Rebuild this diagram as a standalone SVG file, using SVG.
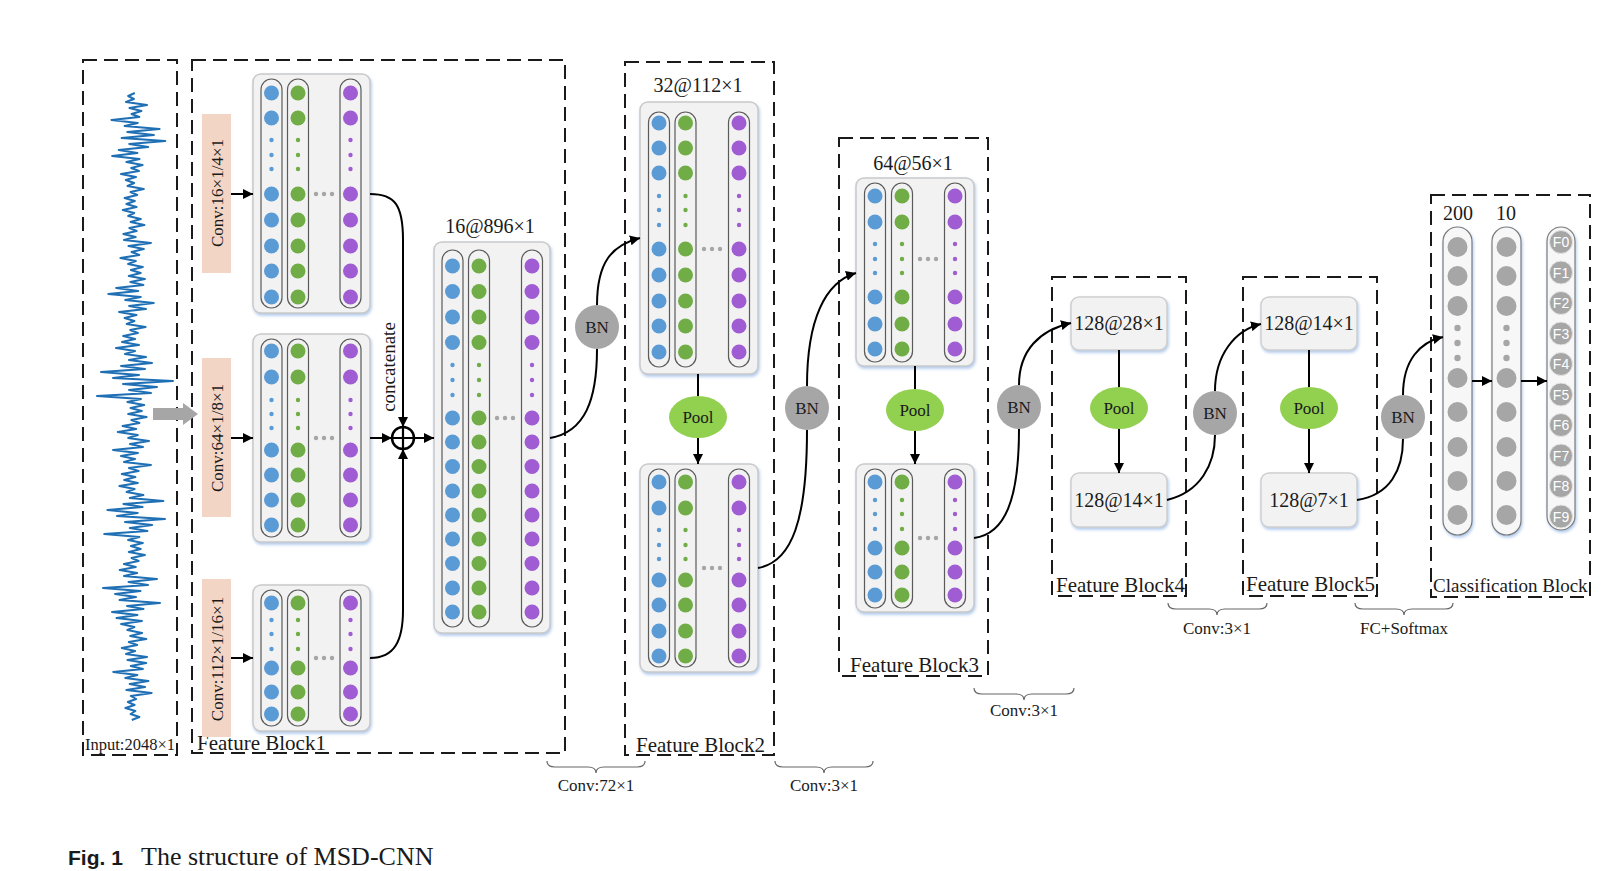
<svg xmlns="http://www.w3.org/2000/svg" width="1619" height="871" viewBox="0 0 1619 871">
<defs>
<style>
.dash{fill:none;stroke:#1a1a1a;stroke-width:2;stroke-dasharray:14 7}
.fm{fill:#f2f2f2;stroke:#c9c9c9;stroke-width:1.5;filter:url(#sh)}
.cap{fill:none;stroke:#5a5a5a;stroke-width:1.2}
.gcap{fill:#f7f7f7;stroke:#7a7a7a;stroke-width:1.2;filter:url(#sh)}
.b{fill:#5b9bd5}.g{fill:#70ad47}.p{fill:#a05cd2}.e{fill:#a6a6a6}
.conn{fill:none;stroke:#000;stroke-width:2}
.arr{marker-end:url(#ah)}
.bn{fill:#a6a6a6}
.pool{fill:#92d050}
.tb{fill:#f2f2f2;stroke:#cfcfcf;stroke-width:1.5;filter:url(#sh)}
.t{font-family:"Liberation Serif","Times New Roman",serif;fill:#1a1a1a}
.pink{fill:#f3d5c5}
.brace{fill:none;stroke:#666;stroke-width:1.2}
.fl{font-family:"Liberation Sans",Arial,sans-serif;font-size:14px;fill:#fff}
</style>
<filter id="sh" x="-10%" y="-10%" width="130%" height="130%">
<feDropShadow dx="1" dy="2" stdDeviation="1.5" flood-color="#8fb4e3" flood-opacity="0.7"/>
</filter>
<marker id="ah" viewBox="0 0 10 10" refX="10" refY="5" markerWidth="5" markerHeight="5" orient="auto" markerUnits="strokeWidth">
<path d="M0,0 L10,5 L0,10 z" fill="#000"/>
</marker>
</defs>
<rect width="1619" height="871" fill="#fff"/>

<g id="input">
<rect class="dash" x="83" y="60" width="94" height="695"/>
<path fill="none" stroke="#1f6fb5" stroke-width="2" stroke-linejoin="round" d="M134.8,93 L128.2,96 L133.9,99 L126,102 L147,105 L129.5,108 L141.4,111 L131.6,114 L139.3,117 L111.4,120 L137.8,123 L124.6,126 L159.6,129 L127.3,132 L153.9,135 L121.6,138 L165.3,141 L129.2,144 L148.2,147 L118.7,150 L137.4,153 L112.1,156 L139.6,159 L126.4,162 L142.6,165 L131.2,168 L139,171 L121,174 L136,177 L125.8,180 L134.2,183 L127.6,186 L143.8,189 L130.6,192 L137.2,195 L124.6,198 L134.8,201 L126.4,204 L136.6,207 L122.8,210 L134.2,213 L128.2,216 L140.8,219 L130.6,222 L144.4,225 L129.4,228 L136.6,231 L123.4,234 L135.7,237 L124,240 L151,243 L128.5,246 L143.8,249 L131.6,252 L139.3,255 L120.4,258 L135.8,261 L128.1,264 L142.8,267 L130.9,270 L140.7,273 L128.8,276 L144.9,279 L130.4,282 L143.4,285 L116.1,288 L138.2,291 L108.3,294 L140.8,297 L125.2,300 L153.8,303 L129.1,306 L146,309 L119,312 L136.5,315 L124.6,318 L134.4,321 L126.7,324 L145.6,327 L130.2,330 L137.9,333 L123.2,336 L135.1,339 L122,342 L139,345 L116,348 L135,351 L125,354 L146,357 L129,360 L152,363 L121,366 L145,369 L101,372 L139,375 L113,378 L173,381 L123,384 L157,387 L129,390 L151,393 L97,396 L141,399 L127.4,402 L144.2,405 L130.6,408 L141.8,411 L128.2,414 L146.6,417 L131.4,420 L139.4,423 L122.6,426 L136.2,429 L117.8,432 L137.8,435 L128.2,438 L149,441 L130,444 L143,447 L113,450 L138,453 L121,456 L135,459 L124,462 L151,465 L129,468 L138.6,471 L121.8,474 L135.4,477 L124.2,480 L137.8,483 L119.4,486 L134.6,489 L126.6,492 L143.4,495 L129.8,498 L163.4,501 L123.4,504 L142.6,507 L107.4,510 L137.8,513 L117,516 L165,519 L125,522 L152.2,525 L129.8,528 L147.4,531 L104.2,534 L139.4,537 L128.1,540 L142.8,543 L130.9,546 L140.7,549 L128.8,552 L144.9,555 L131.6,558 L138.6,561 L123.9,564 L135.8,567 L119.7,570 L137.2,573 L124,576 L157,579 L128.5,582 L148,585 L103,588 L140.5,591 L115,594 L136,597 L119.5,600 L160,603 L127,606 L143.5,609 L112,612 L137.5,615 L116.5,618 L142,621 L121.1,624 L134.4,627 L127.4,630 L142.1,633 L130.2,636 L146.3,639 L128.8,642 L137.2,645 L121.8,648 L135.1,651 L126,654 L147,657 L127.5,660 L146.2,663 L130.8,666 L142.9,669 L113.2,672 L137.4,675 L125.3,678 L148.4,681 L129.7,684 L145.1,687 L126.4,690 L151.7,693 L130.8,696 L136.2,699 L127.8,702 L134.6,705 L125.4,708 L135.4,711 L130.6,714 L139.4,717 L131.8,720"/>
<text class="t" x="85" y="750" font-size="16.5">Input:2048×1</text>
</g>

<g id="feature-block1">
<rect class="dash" x="192" y="60" width="373" height="693"/>
<text class="t" x="197" y="750" font-size="21">Feature Block1</text>
<rect class="pink" x="202" y="114" width="29" height="159"/>
<rect class="pink" x="202" y="358" width="29" height="159"/>
<rect class="pink" x="202" y="579" width="29" height="158"/>
<text class="t" font-size="17" text-anchor="middle" dominant-baseline="central" transform="translate(217,193) rotate(-90)">Conv:16×1/4×1</text>
<text class="t" font-size="17" text-anchor="middle" dominant-baseline="central" transform="translate(217,438) rotate(-90)">Conv:64×1/8×1</text>
<text class="t" font-size="17" text-anchor="middle" dominant-baseline="central" transform="translate(217,659) rotate(-90)">Conv:112×1/16×1</text>
<text class="t" font-size="19" text-anchor="middle" dominant-baseline="central" transform="translate(388,367) rotate(-90)">concatenate</text>

<g id="fmap1">
<rect class="fm" x="253" y="74" width="117" height="239" rx="8"/>
<rect class="cap" x="261" y="79" width="21" height="229" rx="10.5"/>
<rect class="cap" x="287.5" y="79" width="21" height="229" rx="10.5"/>
<rect class="cap" x="340" y="79" width="21" height="229" rx="10.5"/>
<g class="b"><circle cx="271.5" cy="93" r="7.5"/><circle cx="271.5" cy="118" r="7.5"/><circle cx="271.5" cy="140" r="2.2"/><circle cx="271.5" cy="155" r="2.2"/><circle cx="271.5" cy="169" r="2.2"/><circle cx="271.5" cy="194" r="7.5"/><circle cx="271.5" cy="220" r="7.5"/><circle cx="271.5" cy="246" r="7.5"/><circle cx="271.5" cy="271" r="7.5"/><circle cx="271.5" cy="297" r="7.5"/></g>
<g class="g"><circle cx="298" cy="93" r="7.5"/><circle cx="298" cy="118" r="7.5"/><circle cx="298" cy="140" r="2.2"/><circle cx="298" cy="155" r="2.2"/><circle cx="298" cy="169" r="2.2"/><circle cx="298" cy="194" r="7.5"/><circle cx="298" cy="220" r="7.5"/><circle cx="298" cy="246" r="7.5"/><circle cx="298" cy="271" r="7.5"/><circle cx="298" cy="297" r="7.5"/></g>
<g class="p"><circle cx="350.5" cy="93" r="7.5"/><circle cx="350.5" cy="118" r="7.5"/><circle cx="350.5" cy="140" r="2.2"/><circle cx="350.5" cy="155" r="2.2"/><circle cx="350.5" cy="169" r="2.2"/><circle cx="350.5" cy="194" r="7.5"/><circle cx="350.5" cy="220" r="7.5"/><circle cx="350.5" cy="246" r="7.5"/><circle cx="350.5" cy="271" r="7.5"/><circle cx="350.5" cy="297" r="7.5"/></g>
<g class="e"><circle cx="316" cy="194" r="2.2"/><circle cx="324" cy="194" r="2.2"/><circle cx="332" cy="194" r="2.2"/></g>
</g>

<g id="fmap2">
<rect class="fm" x="253" y="334" width="117" height="208" rx="8"/>
<rect class="cap" x="261" y="339" width="21" height="198" rx="10.5"/>
<rect class="cap" x="287.5" y="339" width="21" height="198" rx="10.5"/>
<rect class="cap" x="340" y="339" width="21" height="198" rx="10.5"/>
<g class="b"><circle cx="271.5" cy="351" r="7.5"/><circle cx="271.5" cy="377" r="7.5"/><circle cx="271.5" cy="400" r="2.2"/><circle cx="271.5" cy="414" r="2.2"/><circle cx="271.5" cy="428" r="2.2"/><circle cx="271.5" cy="450" r="7.5"/><circle cx="271.5" cy="475" r="7.5"/><circle cx="271.5" cy="500" r="7.5"/><circle cx="271.5" cy="525" r="7.5"/></g>
<g class="g"><circle cx="298" cy="351" r="7.5"/><circle cx="298" cy="377" r="7.5"/><circle cx="298" cy="400" r="2.2"/><circle cx="298" cy="414" r="2.2"/><circle cx="298" cy="428" r="2.2"/><circle cx="298" cy="450" r="7.5"/><circle cx="298" cy="475" r="7.5"/><circle cx="298" cy="500" r="7.5"/><circle cx="298" cy="525" r="7.5"/></g>
<g class="p"><circle cx="350.5" cy="351" r="7.5"/><circle cx="350.5" cy="377" r="7.5"/><circle cx="350.5" cy="400" r="2.2"/><circle cx="350.5" cy="414" r="2.2"/><circle cx="350.5" cy="428" r="2.2"/><circle cx="350.5" cy="450" r="7.5"/><circle cx="350.5" cy="475" r="7.5"/><circle cx="350.5" cy="500" r="7.5"/><circle cx="350.5" cy="525" r="7.5"/></g>
<g class="e"><circle cx="316" cy="438" r="2.2"/><circle cx="324" cy="438" r="2.2"/><circle cx="332" cy="438" r="2.2"/></g>
</g>

<g id="fmap3">
<rect class="fm" x="253" y="585" width="117" height="146" rx="8"/>
<rect class="cap" x="261" y="590" width="21" height="136" rx="10.5"/>
<rect class="cap" x="287.5" y="590" width="21" height="136" rx="10.5"/>
<rect class="cap" x="340" y="590" width="21" height="136" rx="10.5"/>
<g class="b"><circle cx="271.5" cy="603" r="7.5"/><circle cx="271.5" cy="620" r="2.2"/><circle cx="271.5" cy="634" r="2.2"/><circle cx="271.5" cy="649" r="2.2"/><circle cx="271.5" cy="668" r="7.5"/><circle cx="271.5" cy="692" r="7.5"/><circle cx="271.5" cy="714" r="7.5"/></g>
<g class="g"><circle cx="298" cy="603" r="7.5"/><circle cx="298" cy="620" r="2.2"/><circle cx="298" cy="634" r="2.2"/><circle cx="298" cy="649" r="2.2"/><circle cx="298" cy="668" r="7.5"/><circle cx="298" cy="692" r="7.5"/><circle cx="298" cy="714" r="7.5"/></g>
<g class="p"><circle cx="350.5" cy="603" r="7.5"/><circle cx="350.5" cy="620" r="2.2"/><circle cx="350.5" cy="634" r="2.2"/><circle cx="350.5" cy="649" r="2.2"/><circle cx="350.5" cy="668" r="7.5"/><circle cx="350.5" cy="692" r="7.5"/><circle cx="350.5" cy="714" r="7.5"/></g>
<g class="e"><circle cx="316" cy="658" r="2.2"/><circle cx="324" cy="658" r="2.2"/><circle cx="332" cy="658" r="2.2"/></g>
</g>

<g id="concat">
<circle cx="403" cy="438" r="11" fill="#fff" stroke="#000" stroke-width="2.5"/>
<path d="M392,438 H414 M403,427 V449" stroke="#000" stroke-width="2.2"/>
</g>

<g id="fmap-big">
<text class="t" x="490" y="233" font-size="20" text-anchor="middle">16@896×1</text>
<rect class="fm" x="434" y="242" width="116" height="391" rx="8"/>
<rect class="cap" x="442" y="250" width="21" height="377" rx="10.5"/>
<rect class="cap" x="468.5" y="250" width="21" height="377" rx="10.5"/>
<rect class="cap" x="521.5" y="250" width="21" height="377" rx="10.5"/>
<g class="b"><circle cx="452.5" cy="266" r="7.5"/><circle cx="452.5" cy="291.5" r="7.5"/><circle cx="452.5" cy="317" r="7.5"/><circle cx="452.5" cy="342.5" r="7.5"/><circle cx="452.5" cy="365" r="2.2"/><circle cx="452.5" cy="380" r="2.2"/><circle cx="452.5" cy="395" r="2.2"/><circle cx="452.5" cy="418" r="7.5"/><circle cx="452.5" cy="442" r="7.5"/><circle cx="452.5" cy="466.5" r="7.5"/><circle cx="452.5" cy="491" r="7.5"/><circle cx="452.5" cy="515" r="7.5"/><circle cx="452.5" cy="539" r="7.5"/><circle cx="452.5" cy="563.5" r="7.5"/><circle cx="452.5" cy="588" r="7.5"/><circle cx="452.5" cy="612" r="7.5"/></g>
<g class="g"><circle cx="479" cy="266" r="7.5"/><circle cx="479" cy="291.5" r="7.5"/><circle cx="479" cy="317" r="7.5"/><circle cx="479" cy="342.5" r="7.5"/><circle cx="479" cy="365" r="2.2"/><circle cx="479" cy="380" r="2.2"/><circle cx="479" cy="395" r="2.2"/><circle cx="479" cy="418" r="7.5"/><circle cx="479" cy="442" r="7.5"/><circle cx="479" cy="466.5" r="7.5"/><circle cx="479" cy="491" r="7.5"/><circle cx="479" cy="515" r="7.5"/><circle cx="479" cy="539" r="7.5"/><circle cx="479" cy="563.5" r="7.5"/><circle cx="479" cy="588" r="7.5"/><circle cx="479" cy="612" r="7.5"/></g>
<g class="p"><circle cx="532" cy="266" r="7.5"/><circle cx="532" cy="291.5" r="7.5"/><circle cx="532" cy="317" r="7.5"/><circle cx="532" cy="342.5" r="7.5"/><circle cx="532" cy="365" r="2.2"/><circle cx="532" cy="380" r="2.2"/><circle cx="532" cy="395" r="2.2"/><circle cx="532" cy="418" r="7.5"/><circle cx="532" cy="442" r="7.5"/><circle cx="532" cy="466.5" r="7.5"/><circle cx="532" cy="491" r="7.5"/><circle cx="532" cy="515" r="7.5"/><circle cx="532" cy="539" r="7.5"/><circle cx="532" cy="563.5" r="7.5"/><circle cx="532" cy="588" r="7.5"/><circle cx="532" cy="612" r="7.5"/></g>
<g class="e"><circle cx="497" cy="418" r="2.2"/><circle cx="505" cy="418" r="2.2"/><circle cx="513" cy="418" r="2.2"/></g>
</g>
</g>

<g id="feature-block2">
<rect class="dash" x="625" y="62" width="149" height="693"/>
<text class="t" x="636" y="752" font-size="21">Feature Block2</text>
<text class="t" x="698" y="92" font-size="20" text-anchor="middle">32@112×1</text>
<g id="fmapA">
<rect class="fm" x="640" y="102" width="118" height="272" rx="8"/>
<rect class="cap" x="648.5" y="112" width="21" height="255" rx="10.5"/>
<rect class="cap" x="675" y="112" width="21" height="255" rx="10.5"/>
<rect class="cap" x="728.5" y="112" width="21" height="255" rx="10.5"/>
<g class="b"><circle cx="659" cy="123" r="7.5"/><circle cx="659" cy="148" r="7.5"/><circle cx="659" cy="173" r="7.5"/><circle cx="659" cy="196" r="2.2"/><circle cx="659" cy="210" r="2.2"/><circle cx="659" cy="225" r="2.2"/><circle cx="659" cy="249" r="7.5"/><circle cx="659" cy="275" r="7.5"/><circle cx="659" cy="301" r="7.5"/><circle cx="659" cy="326" r="7.5"/><circle cx="659" cy="352" r="7.5"/></g>
<g class="g"><circle cx="685.5" cy="123" r="7.5"/><circle cx="685.5" cy="148" r="7.5"/><circle cx="685.5" cy="173" r="7.5"/><circle cx="685.5" cy="196" r="2.2"/><circle cx="685.5" cy="210" r="2.2"/><circle cx="685.5" cy="225" r="2.2"/><circle cx="685.5" cy="249" r="7.5"/><circle cx="685.5" cy="275" r="7.5"/><circle cx="685.5" cy="301" r="7.5"/><circle cx="685.5" cy="326" r="7.5"/><circle cx="685.5" cy="352" r="7.5"/></g>
<g class="p"><circle cx="739" cy="123" r="7.5"/><circle cx="739" cy="148" r="7.5"/><circle cx="739" cy="173" r="7.5"/><circle cx="739" cy="196" r="2.2"/><circle cx="739" cy="210" r="2.2"/><circle cx="739" cy="225" r="2.2"/><circle cx="739" cy="249" r="7.5"/><circle cx="739" cy="275" r="7.5"/><circle cx="739" cy="301" r="7.5"/><circle cx="739" cy="326" r="7.5"/><circle cx="739" cy="352" r="7.5"/></g>
<g class="e"><circle cx="704" cy="249" r="2.2"/><circle cx="712" cy="249" r="2.2"/><circle cx="720" cy="249" r="2.2"/></g>
</g>
<g id="pool2">
<ellipse class="pool" cx="698" cy="417" rx="29" ry="21"/>
<text class="t" x="698" y="423" font-size="17" text-anchor="middle">Pool</text>
</g>
<g id="fmapB">
<rect class="fm" x="640" y="464" width="118" height="208" rx="8"/>
<rect class="cap" x="648.5" y="469" width="21" height="198" rx="10.5"/>
<rect class="cap" x="675" y="469" width="21" height="198" rx="10.5"/>
<rect class="cap" x="728.5" y="469" width="21" height="198" rx="10.5"/>
<g class="b"><circle cx="659" cy="482" r="7.5"/><circle cx="659" cy="508" r="7.5"/><circle cx="659" cy="530" r="2.2"/><circle cx="659" cy="545" r="2.2"/><circle cx="659" cy="559" r="2.2"/><circle cx="659" cy="580" r="7.5"/><circle cx="659" cy="605" r="7.5"/><circle cx="659" cy="631" r="7.5"/><circle cx="659" cy="656" r="7.5"/></g>
<g class="g"><circle cx="685.5" cy="482" r="7.5"/><circle cx="685.5" cy="508" r="7.5"/><circle cx="685.5" cy="530" r="2.2"/><circle cx="685.5" cy="545" r="2.2"/><circle cx="685.5" cy="559" r="2.2"/><circle cx="685.5" cy="580" r="7.5"/><circle cx="685.5" cy="605" r="7.5"/><circle cx="685.5" cy="631" r="7.5"/><circle cx="685.5" cy="656" r="7.5"/></g>
<g class="p"><circle cx="739" cy="482" r="7.5"/><circle cx="739" cy="508" r="7.5"/><circle cx="739" cy="530" r="2.2"/><circle cx="739" cy="545" r="2.2"/><circle cx="739" cy="559" r="2.2"/><circle cx="739" cy="580" r="7.5"/><circle cx="739" cy="605" r="7.5"/><circle cx="739" cy="631" r="7.5"/><circle cx="739" cy="656" r="7.5"/></g>
<g class="e"><circle cx="704" cy="568" r="2.2"/><circle cx="712" cy="568" r="2.2"/><circle cx="720" cy="568" r="2.2"/></g>
</g>
</g>

<g id="feature-block3">
<rect class="dash" x="839" y="138" width="149" height="538"/>
<text class="t" x="850" y="672" font-size="21">Feature Block3</text>
<text class="t" x="913" y="170" font-size="20" text-anchor="middle">64@56×1</text>
<g id="fmapC">
<rect class="fm" x="856" y="178" width="118" height="188" rx="8"/>
<rect class="cap" x="864.5" y="183" width="21" height="179" rx="10.5"/>
<rect class="cap" x="891.5" y="183" width="21" height="179" rx="10.5"/>
<rect class="cap" x="944.5" y="183" width="21" height="179" rx="10.5"/>
<g class="b"><circle cx="875" cy="196" r="7.5"/><circle cx="875" cy="222" r="7.5"/><circle cx="875" cy="244" r="2.2"/><circle cx="875" cy="259" r="2.2"/><circle cx="875" cy="273" r="2.2"/><circle cx="875" cy="297" r="7.5"/><circle cx="875" cy="324" r="7.5"/><circle cx="875" cy="349" r="7.5"/></g>
<g class="g"><circle cx="902" cy="196" r="7.5"/><circle cx="902" cy="222" r="7.5"/><circle cx="902" cy="244" r="2.2"/><circle cx="902" cy="259" r="2.2"/><circle cx="902" cy="273" r="2.2"/><circle cx="902" cy="297" r="7.5"/><circle cx="902" cy="324" r="7.5"/><circle cx="902" cy="349" r="7.5"/></g>
<g class="p"><circle cx="955" cy="196" r="7.5"/><circle cx="955" cy="222" r="7.5"/><circle cx="955" cy="244" r="2.2"/><circle cx="955" cy="259" r="2.2"/><circle cx="955" cy="273" r="2.2"/><circle cx="955" cy="297" r="7.5"/><circle cx="955" cy="324" r="7.5"/><circle cx="955" cy="349" r="7.5"/></g>
<g class="e"><circle cx="920" cy="259" r="2.2"/><circle cx="928" cy="259" r="2.2"/><circle cx="936" cy="259" r="2.2"/></g>
</g>
<g id="pool3">
<ellipse class="pool" cx="915" cy="410" rx="29" ry="21"/>
<text class="t" x="915" y="416" font-size="17" text-anchor="middle">Pool</text>
</g>
<g id="fmapD">
<rect class="fm" x="856" y="464" width="118" height="148" rx="8"/>
<rect class="cap" x="864.5" y="469" width="21" height="139" rx="10.5"/>
<rect class="cap" x="891.5" y="469" width="21" height="139" rx="10.5"/>
<rect class="cap" x="944.5" y="469" width="21" height="139" rx="10.5"/>
<g class="b"><circle cx="875" cy="482" r="7.5"/><circle cx="875" cy="500" r="2.2"/><circle cx="875" cy="514" r="2.2"/><circle cx="875" cy="529" r="2.2"/><circle cx="875" cy="548" r="7.5"/><circle cx="875" cy="572" r="7.5"/><circle cx="875" cy="595" r="7.5"/></g>
<g class="g"><circle cx="902" cy="482" r="7.5"/><circle cx="902" cy="500" r="2.2"/><circle cx="902" cy="514" r="2.2"/><circle cx="902" cy="529" r="2.2"/><circle cx="902" cy="548" r="7.5"/><circle cx="902" cy="572" r="7.5"/><circle cx="902" cy="595" r="7.5"/></g>
<g class="p"><circle cx="955" cy="482" r="7.5"/><circle cx="955" cy="500" r="2.2"/><circle cx="955" cy="514" r="2.2"/><circle cx="955" cy="529" r="2.2"/><circle cx="955" cy="548" r="7.5"/><circle cx="955" cy="572" r="7.5"/><circle cx="955" cy="595" r="7.5"/></g>
<g class="e"><circle cx="920" cy="538" r="2.2"/><circle cx="928" cy="538" r="2.2"/><circle cx="936" cy="538" r="2.2"/></g>
</g>
</g>

<g id="feature-block4">
<rect class="dash" x="1052" y="277" width="134" height="319"/>
<text class="t" x="1056" y="592" font-size="21">Feature Block4</text>
<rect class="tb" x="1071" y="297" width="96" height="53" rx="8"/>
<text class="t" x="1119" y="330" font-size="20" text-anchor="middle">128@28×1</text>
<ellipse class="pool" cx="1119" cy="408" rx="29" ry="21"/>
<text class="t" x="1119" y="414" font-size="17" text-anchor="middle">Pool</text>
<rect class="tb" x="1071" y="473" width="96" height="54" rx="8"/>
<text class="t" x="1119" y="507" font-size="20" text-anchor="middle">128@14×1</text>
</g>

<g id="feature-block5">
<rect class="dash" x="1243" y="277" width="134" height="319"/>
<text class="t" x="1246" y="591" font-size="21">Feature Block5</text>
<rect class="tb" x="1261" y="297" width="96" height="53" rx="8"/>
<text class="t" x="1309" y="330" font-size="20" text-anchor="middle">128@14×1</text>
<ellipse class="pool" cx="1309" cy="408" rx="29" ry="21"/>
<text class="t" x="1309" y="414" font-size="17" text-anchor="middle">Pool</text>
<rect class="tb" x="1261" y="473" width="96" height="54" rx="8"/>
<text class="t" x="1309" y="507" font-size="20" text-anchor="middle">128@7×1</text>
</g>

<g id="classification-block">
<rect class="dash" x="1431" y="195" width="159" height="402"/>
<text class="t" x="1433" y="592" font-size="19">Classification Block</text>
<text class="t" x="1458" y="220" font-size="20" text-anchor="middle">200</text>
<text class="t" x="1506" y="220" font-size="20" text-anchor="middle">10</text>
<rect class="gcap" x="1443" y="227" width="29" height="308" rx="14.5"/>
<rect class="gcap" x="1492" y="227" width="29" height="308" rx="14.5"/>
<rect class="gcap" x="1547" y="227" width="28" height="303" rx="14"/>
<g class="e">
<circle cx="1457.5" cy="247" r="10"/><circle cx="1457.5" cy="276" r="10"/><circle cx="1457.5" cy="306" r="10"/><circle cx="1457.5" cy="328" r="3.2"/><circle cx="1457.5" cy="343" r="3.2"/><circle cx="1457.5" cy="358" r="3.2"/><circle cx="1457.5" cy="378" r="10"/><circle cx="1457.5" cy="412" r="10"/><circle cx="1457.5" cy="447" r="10"/><circle cx="1457.5" cy="481" r="10"/><circle cx="1457.5" cy="515" r="10"/>
<circle cx="1506.5" cy="247" r="10"/><circle cx="1506.5" cy="276" r="10"/><circle cx="1506.5" cy="306" r="10"/><circle cx="1506.5" cy="328" r="3.2"/><circle cx="1506.5" cy="343" r="3.2"/><circle cx="1506.5" cy="358" r="3.2"/><circle cx="1506.5" cy="378" r="10"/><circle cx="1506.5" cy="412" r="10"/><circle cx="1506.5" cy="447" r="10"/><circle cx="1506.5" cy="481" r="10"/><circle cx="1506.5" cy="515" r="10"/>
</g>
<g class="e" stroke="#e6e6e6" stroke-width="1">
<circle cx="1561" cy="242" r="11.5"/><circle cx="1561" cy="272.5" r="11.5"/><circle cx="1561" cy="303" r="11.5"/><circle cx="1561" cy="333.5" r="11.5"/><circle cx="1561" cy="364" r="11.5"/><circle cx="1561" cy="394.5" r="11.5"/><circle cx="1561" cy="425" r="11.5"/><circle cx="1561" cy="455.5" r="11.5"/><circle cx="1561" cy="486" r="11.5"/><circle cx="1561" cy="516.5" r="11.5"/>
</g>
<g class="fl" text-anchor="middle">
<text x="1561" y="247">F0</text><text x="1561" y="277.5">F1</text><text x="1561" y="308">F2</text><text x="1561" y="338.5">F3</text><text x="1561" y="369">F4</text><text x="1561" y="399.5">F5</text><text x="1561" y="430">F6</text><text x="1561" y="460.5">F7</text><text x="1561" y="491">F8</text><text x="1561" y="521.5">F9</text>
</g>
</g>

<g id="bn-nodes">
<circle class="bn" cx="597" cy="327" r="22"/><text class="t" x="597" y="333" font-size="17" text-anchor="middle">BN</text>
<circle class="bn" cx="807" cy="408" r="22"/><text class="t" x="807" y="414" font-size="17" text-anchor="middle">BN</text>
<circle class="bn" cx="1019" cy="407" r="22"/><text class="t" x="1019" y="413" font-size="17" text-anchor="middle">BN</text>
<circle class="bn" cx="1215" cy="413" r="22"/><text class="t" x="1215" y="419" font-size="17" text-anchor="middle">BN</text>
<circle class="bn" cx="1403" cy="417" r="22"/><text class="t" x="1403" y="423" font-size="17" text-anchor="middle">BN</text>
</g>

<g id="connectors">
<path d="M153,408 H183 V403 L198,414 L183,425 V420 H153 Z" fill="#a6a6a6"/>
<path class="conn arr" d="M231,194 H253"/>
<path class="conn arr" d="M231,438 H253"/>
<path class="conn arr" d="M231,658 H253"/>
<path class="conn arr" d="M370,194 C395,194 403,205 403,240 L403,427"/>
<path class="conn arr" d="M370,438 H392"/>
<path class="conn arr" d="M370,658 C395,658 403,640 403,610 L403,449"/>
<path class="conn arr" d="M414,438 H434"/>
<path class="conn" d="M550,438 C585,432 597,400 597,349"/>
<path class="conn arr" d="M597,305 C597,262 612,245 640,238"/>
<path class="conn" d="M698,374 V396"/>
<path class="conn arr" d="M698,438 V464"/>
<path class="conn" d="M758,568 C792,562 807,520 807,430"/>
<path class="conn arr" d="M807,386 C807,320 825,282 856,273"/>
<path class="conn" d="M915,366 V389"/>
<path class="conn arr" d="M915,431 V464"/>
<path class="conn" d="M974,538 C1005,534 1019,500 1019,429"/>
<path class="conn arr" d="M1019,385 C1019,350 1040,330 1071,323"/>
<path class="conn" d="M1119,350 V387"/>
<path class="conn arr" d="M1119,429 V473"/>
<path class="conn" d="M1167,500 C1200,492 1215,465 1215,435"/>
<path class="conn arr" d="M1215,391 C1215,355 1235,330 1261,324"/>
<path class="conn" d="M1309,350 V387"/>
<path class="conn arr" d="M1309,429 V473"/>
<path class="conn" d="M1357,500 C1390,495 1403,470 1403,439"/>
<path class="conn arr" d="M1403,395 C1403,360 1420,342 1443,337"/>
<path class="conn arr" d="M1472,381 H1492"/>
<path class="conn arr" d="M1521,381 H1547"/>
</g>

<g id="braces">
<path class="brace" d="M547,761 Q547,767 555,767 L588,767 Q596,767 596,773 Q596,767 604,767 L637,767 Q645,767 645,761"/>
<text class="t" x="596" y="791" font-size="17" text-anchor="middle">Conv:72×1</text>
<path class="brace" d="M775,761 Q775,767 783,767 L816,767 Q824,767 824,773 Q824,767 832,767 L865,767 Q873,767 873,761"/>
<text class="t" x="824" y="791" font-size="17" text-anchor="middle">Conv:3×1</text>
<path class="brace" d="M974,688 Q974,694 982,694 L1016,694 Q1024,694 1024,700 Q1024,694 1032,694 L1066,694 Q1074,694 1074,688"/>
<text class="t" x="1024" y="716" font-size="17" text-anchor="middle">Conv:3×1</text>
<path class="brace" d="M1168,603 Q1168,609 1176,609 L1209,609 Q1217,609 1217,615 Q1217,609 1225,609 L1259,609 Q1267,609 1267,603"/>
<text class="t" x="1217" y="634" font-size="17" text-anchor="middle">Conv:3×1</text>
<path class="brace" d="M1355,603 Q1355,609 1363,609 L1396,609 Q1404,609 1404,615 Q1404,609 1412,609 L1445,609 Q1453,609 1453,603"/>
<text class="t" x="1404" y="634" font-size="17" text-anchor="middle">FC+Softmax</text>
</g>

<g id="caption">
<text x="68" y="865" font-family="Liberation Sans, Arial, sans-serif" font-weight="bold" font-size="21" fill="#1a1a1a">Fig. 1</text>
<text class="t" x="141" y="865" font-size="26">The structure of MSD-CNN</text>
</g>
</svg>
